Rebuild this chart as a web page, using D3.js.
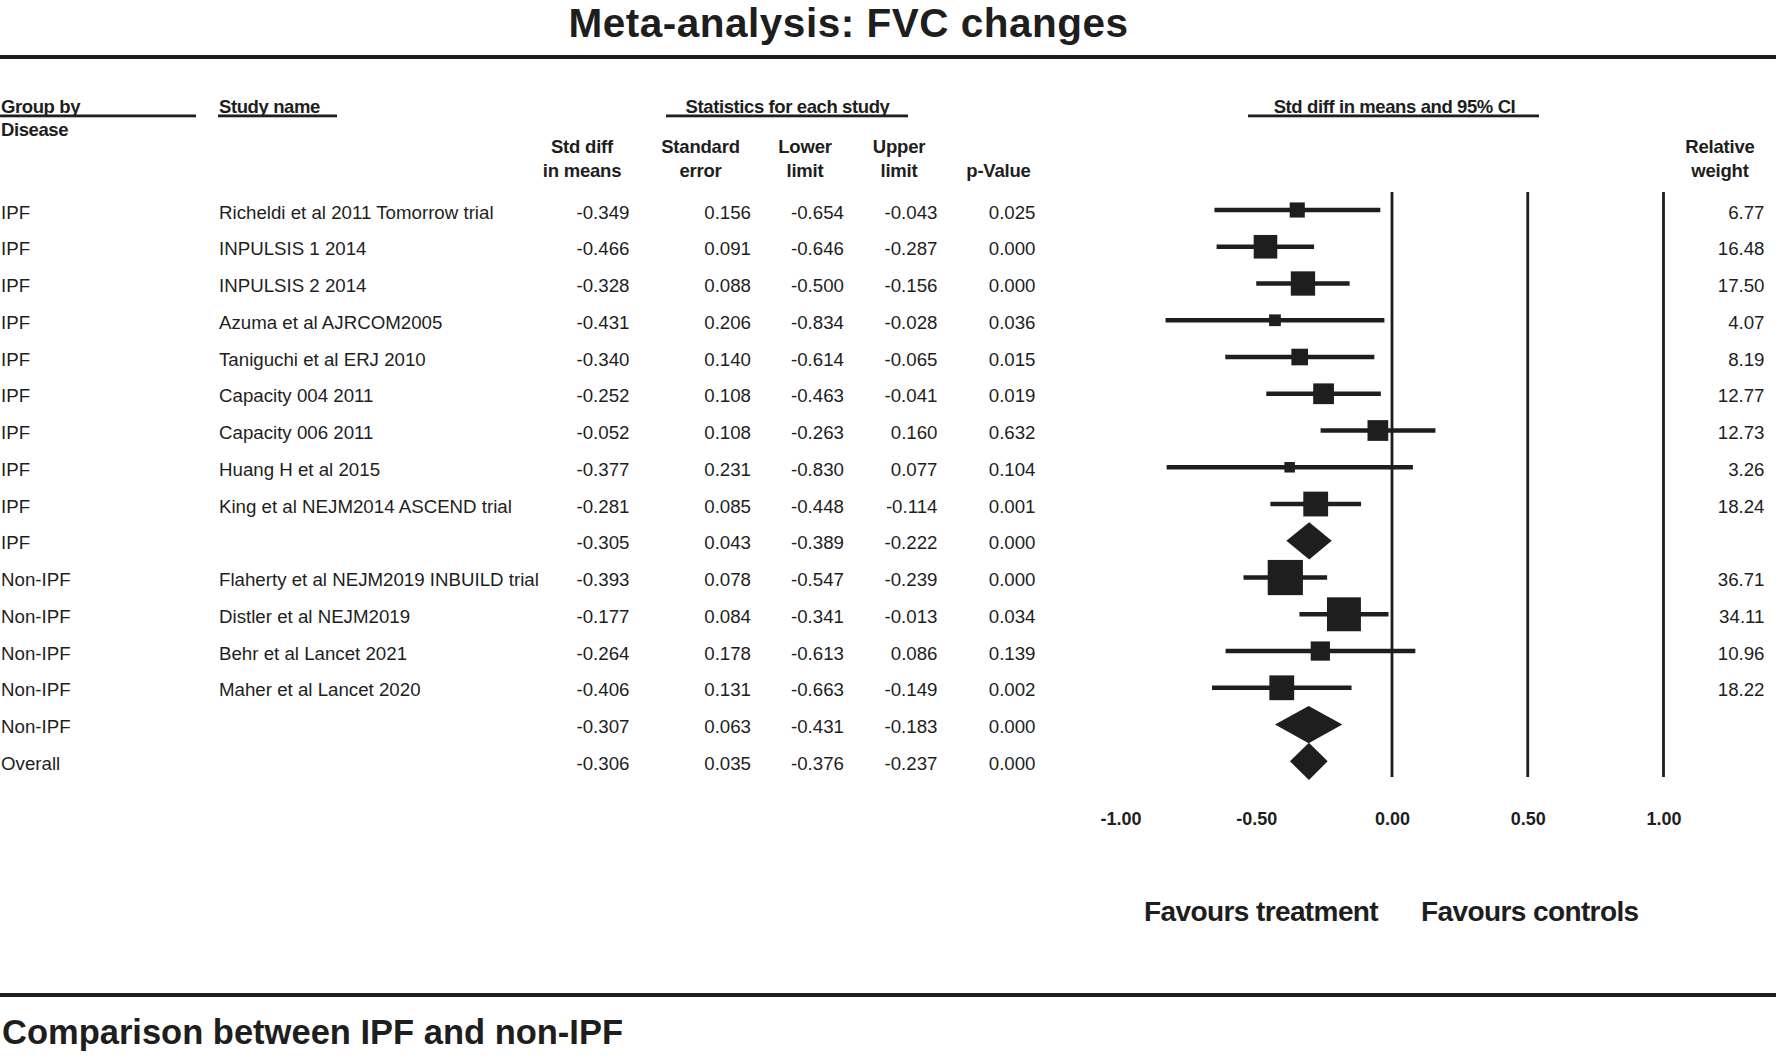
<!DOCTYPE html>
<html>
<head>
<meta charset="utf-8">
<script src="https://cdn.jsdelivr.net/npm/d3@7/dist/d3.min.js"></script>
<style>
  html, body { margin: 0; padding: 0; background: #fff; }
  svg { display: block; }
  text { font-family: "Liberation Sans", Arial, sans-serif; fill: #1e1e1e; }
</style>
</head>
<body>
<script>
// ---------- DATA ----------
const groups = ["IPF","IPF","IPF","IPF","IPF","IPF","IPF","IPF","IPF","IPF",
                "Non-IPF","Non-IPF","Non-IPF","Non-IPF","Non-IPF","Overall"];
const studies = ["Richeldi et al 2011 Tomorrow trial","INPULSIS 1 2014","INPULSIS 2 2014",
                 "Azuma et al AJRCOM2005","Taniguchi et al ERJ 2010","Capacity 004 2011",
                 "Capacity 006 2011","Huang H et al 2015","King et al NEJM2014 ASCEND trial","",
                 "Flaherty et al NEJM2019 INBUILD trial","Distler et al NEJM2019",
                 "Behr et al Lancet 2021","Maher et al Lancet 2020","",""];
const rowType = ["study","study","study","study","study","study","study","study","study","summary",
                 "study","study","study","study","summary","summary"];
const stdDiff = [-0.349,-0.466,-0.328,-0.431,-0.340,-0.252,-0.052,-0.377,-0.281,-0.305,
                 -0.393,-0.177,-0.264,-0.406,-0.307,-0.306];
const stdErr  = [0.156,0.091,0.088,0.206,0.140,0.108,0.108,0.231,0.085,0.043,
                 0.078,0.084,0.178,0.131,0.063,0.035];
const lowerLim = [-0.654,-0.646,-0.500,-0.834,-0.614,-0.463,-0.263,-0.830,-0.448,-0.389,
                  -0.547,-0.341,-0.613,-0.663,-0.431,-0.376];
const upperLim = [-0.043,-0.287,-0.156,-0.028,-0.065,-0.041,0.160,0.077,-0.114,-0.222,
                  -0.239,-0.013,0.086,-0.149,-0.183,-0.237];
const pValue  = [0.025,0.000,0.000,0.036,0.015,0.019,0.632,0.104,0.001,0.000,
                 0.000,0.034,0.139,0.002,0.000,0.000];
const relWeight = [6.77,16.48,17.50,4.07,8.19,12.77,12.73,3.26,18.24,null,
                   36.71,34.11,10.96,18.22,null,null];
const axisTicks = [-1.00,-0.50,0.00,0.50,1.00];
const refLines = [0.00,0.50,1.00];

// ---------- LAYOUT ----------
const W = 1776, H = 1057;
const ink = "#1e1e1e";
const svg = d3.select("body").append("svg").attr("width", W).attr("height", H);

const x = d3.scaleLinear().domain([-1, 1]).range([1120.5, 1663.5]);
const idx = d3.range(groups.length);
const y = d3.scalePoint().domain(idx).range([210, 761.3]);
const boxSize = d3.scaleSqrt().domain([0, 36.71]).range([0, 35.2]);

// Title
svg.append("text").attr("x", 848.5).attr("y", 37).attr("text-anchor", "middle")
  .style("font-size", "40.5px").style("font-weight", "bold").style("letter-spacing", "0.5px")
  .text("Meta-analysis: FVC changes");
svg.append("rect").attr("x", 0).attr("y", 55).attr("width", W).attr("height", 4).attr("fill", ink);

// Top headers
const hdr = svg.append("g").style("font-size", "18.5px").style("font-weight", "bold").style("letter-spacing", "-0.4px");
hdr.append("text").attr("x", 1).attr("y", 113).text("Group by");
hdr.append("text").attr("x", 1).attr("y", 136).text("Disease");
hdr.append("text").attr("x", 219).attr("y", 113).text("Study name");
hdr.append("text").attr("x", 787.5).attr("y", 113).attr("text-anchor", "middle").text("Statistics for each study");
hdr.append("text").attr("x", 1394.5).attr("y", 113).attr("text-anchor", "middle").text("Std diff in means and 95% CI");
const underlines = [[0,196],[218,337],[666,908],[1248,1539]];
svg.selectAll("rect.ul").data(underlines).join("rect").attr("class","ul")
  .attr("x", d => d[0]).attr("y", 114.5).attr("width", d => d[1]-d[0]).attr("height", 2.8).attr("fill", ink);

// Sub headers
const sub = svg.append("g").style("font-size", "18.5px").style("font-weight", "bold").style("letter-spacing", "-0.2px")
  .attr("text-anchor", "middle");
const subHeads = [
  {cx: 582, l1: "Std diff", l2: "in means"},
  {cx: 700.5, l1: "Standard", l2: "error"},
  {cx: 805, l1: "Lower", l2: "limit"},
  {cx: 899, l1: "Upper", l2: "limit"},
  {cx: 998.5, l1: "", l2: "p-Value"},
  {cx: 1720, l1: "Relative", l2: "weight"}
];
subHeads.forEach(h => {
  sub.append("text").attr("x", h.cx).attr("y", 153).text(h.l1);
  sub.append("text").attr("x", h.cx).attr("y", 177).text(h.l2);
});

// Table rows
const rows = svg.append("g").style("font-size", "18.7px");
const fmt3 = v => v.toFixed(3);
idx.forEach(i => {
  const by = y(i) + 8.5;
  rows.append("text").attr("x", 1).attr("y", by).text(groups[i]);
  rows.append("text").attr("x", 219).attr("y", by).text(studies[i]);
  const cols = [[629.5, fmt3(stdDiff[i])],[751, fmt3(stdErr[i])],[844, fmt3(lowerLim[i])],
                [937.5, fmt3(upperLim[i])],[1035.5, fmt3(pValue[i])]];
  if (relWeight[i] !== null) cols.push([1764.5, relWeight[i].toFixed(2)]);
  cols.forEach(c => rows.append("text").attr("x", c[0]).attr("y", by).attr("text-anchor", "end").text(c[1]));
});

// Reference vertical lines
svg.selectAll("line.ref").data(refLines).join("line").attr("class","ref")
  .attr("x1", d => x(d)).attr("x2", d => x(d)).attr("y1", 192).attr("y2", 777)
  .attr("stroke", ink).attr("stroke-width", 2.8);

// CI lines and boxes
const studyIdx = idx.filter(i => rowType[i] === "study");
svg.selectAll("line.ci").data(studyIdx).join("line").attr("class","ci")
  .attr("x1", i => x(lowerLim[i])).attr("x2", i => x(upperLim[i]))
  .attr("y1", i => y(i)).attr("y2", i => y(i))
  .attr("stroke", ink).attr("stroke-width", 4.5);
svg.selectAll("rect.box").data(studyIdx).join("rect").attr("class","box")
  .attr("x", i => x(stdDiff[i]) - boxSize(relWeight[i]) / 2)
  .attr("y", i => y(i) - boxSize(relWeight[i]) / 2)
  .attr("width", i => boxSize(relWeight[i])).attr("height", i => boxSize(relWeight[i]))
  .attr("fill", ink);

// Summary diamonds
const sumIdx = idx.filter(i => rowType[i] === "summary");
const dh = 18.6;
svg.selectAll("path.diamond").data(sumIdx).join("path").attr("class","diamond")
  .attr("d", i => `M${x(lowerLim[i])},${y(i)} L${x(stdDiff[i])},${y(i)-dh} L${x(upperLim[i])},${y(i)} L${x(stdDiff[i])},${y(i)+dh} Z`)
  .attr("fill", ink);

// Axis tick labels
const axis = d3.axisBottom(x).tickValues(axisTicks).tickSize(0).tickPadding(0)
  .tickFormat(d => d.toFixed(2));
const ag = svg.append("g").attr("transform", "translate(0,811)").call(axis);
ag.select(".domain").remove();
ag.selectAll("text").attr("dy", "0.76em").attr("fill", ink)
  .style("font-size", "18px").style("font-weight", "bold")
  .style("font-family", "'Liberation Sans', Arial, sans-serif");

// Favours labels
svg.append("text").attr("x", 1144).attr("y", 920.5)
  .style("font-size", "28px").style("font-weight", "bold").style("letter-spacing", "-0.6px")
  .text("Favours treatment");
svg.append("text").attr("x", 1421).attr("y", 920.5)
  .style("font-size", "28px").style("font-weight", "bold").style("letter-spacing", "-0.6px")
  .text("Favours controls");

// Bottom
svg.append("rect").attr("x", 0).attr("y", 993).attr("width", W).attr("height", 4).attr("fill", ink);
svg.append("text").attr("x", 2).attr("y", 1044)
  .style("font-size", "34.5px").style("font-weight", "bold")
  .text("Comparison between IPF and non-IPF");
</script>
</body>
</html>
